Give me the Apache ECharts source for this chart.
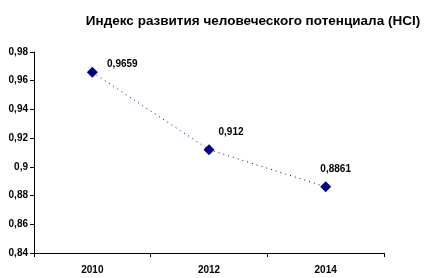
<!DOCTYPE html>
<html>
<head>
<meta charset="utf-8">
<script src="https://cdn.jsdelivr.net/npm/echarts@6/dist/echarts.min.js"></script>
<style>
    html, body { margin: 0; padding: 0; background: #fff; }
    #chart { width: 426px; height: 278px; }
</style>
</head>
<body>
<div id="chart"></div>
<script>
const years = ['2010', '2012', '2014'];
const hciValues = [0.9659, 0.912, 0.8861];
const valueLabels = ['0,9659', '0,912', '0,8861'];

// label offsets from the point centre, as Excel placed them
const labelOffsets = [[30, -8], [22, -17], [10, -18]];

const fmt = (v) => String(+v.toFixed(2)).replace('.', ',');

const option = {
    animation: false,
    title: {
        text: 'Индекс развития человеческого потенциала (HCI)',
        left: 248,
        textAlign: 'center',
        top: 9,
        textStyle: {
            fontFamily: 'Arial, Liberation Sans',
            fontSize: 13.5,
            fontWeight: 'bold',
            color: '#000',
        },
    },
    grid: {
        left: 34,
        right: 42,
        top: 52,
        bottom: 25,
    },
    xAxis: {
        type: 'category',
        data: years,
        boundaryGap: true,
        axisLine: { lineStyle: { color: '#000', width: 1 } },
        axisTick: { show: true, length: 4, lineStyle: { color: '#000' } },
        axisLabel: {
            color: '#000',
            fontFamily: 'Arial, Liberation Sans',
            fontSize: 10,
            fontWeight: 'bold',
            margin: 12,
        },
        splitLine: { show: false },
    },
    yAxis: {
        type: 'value',
        min: 0.84,
        max: 0.98,
        interval: 0.02,
        axisLine: { show: true, lineStyle: { color: '#000', width: 1 } },
        axisTick: { show: true, length: 4, lineStyle: { color: '#000' } },
        axisLabel: {
            color: '#000',
            fontFamily: 'Arial, Liberation Sans',
            fontSize: 10,
            fontWeight: 'bold',
            margin: 6,
            formatter: fmt,
        },
        splitLine: { show: false },
    },
    series: [
        {
            type: 'line',
            data: hciValues.map((v, i) => ({
                value: v,
                label: { offset: labelOffsets[i] },
            })),
            symbol: 'diamond',
            symbolSize: 11,
            itemStyle: { color: '#000080' },
            lineStyle: { color: '#000080', width: 1, type: [1, 4] },
            label: {
                show: true,
                position: 'inside',
                color: '#000',
                fontFamily: 'Arial, Liberation Sans',
                fontSize: 10,
                fontWeight: 'bold',
                formatter: (p) => valueLabels[p.dataIndex],
            },
        },
    ],
};

let myChart = echarts.init(document.getElementById('chart'));
myChart.setOption(option);
</script>
</body>
</html>
